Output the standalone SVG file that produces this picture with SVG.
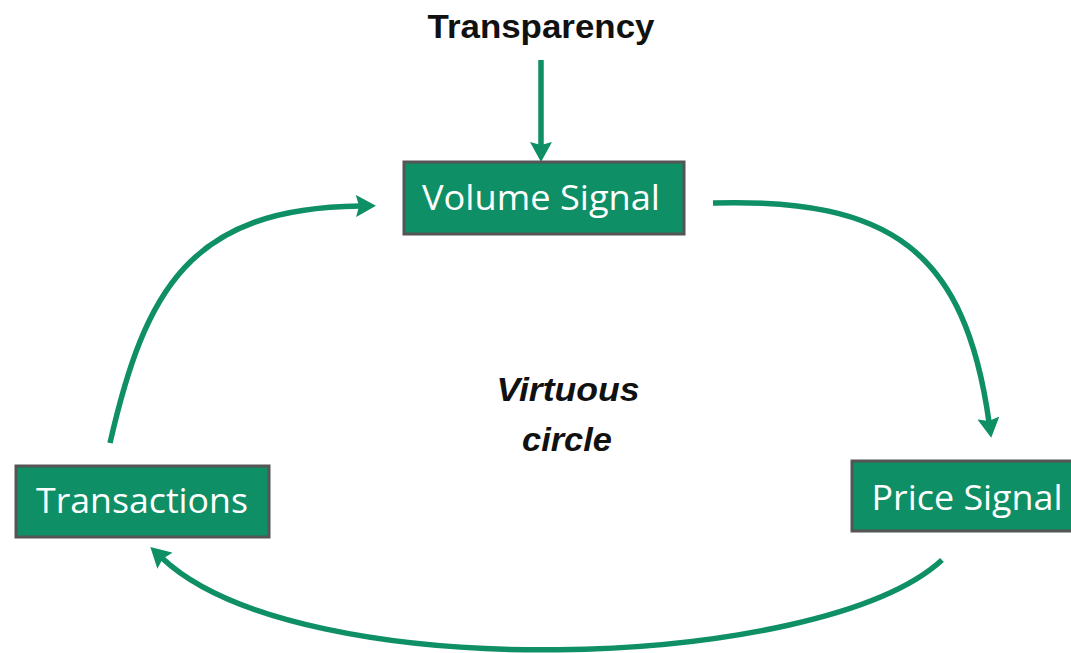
<svg xmlns="http://www.w3.org/2000/svg" width="1071" height="653" viewBox="0 0 1071 653">
<defs>
<style>
.box{fill:#0e8f65;stroke:#555;stroke-width:3}
.lbl{fill:#fff;font-family:"Open Sans","Liberation Sans",sans-serif;font-size:34px}
.conn{fill:none;stroke:#0e8f65;stroke-width:5.5}
.title{fill:#111;font-family:"Liberation Sans",sans-serif;font-weight:bold;font-size:33px}
.mid{fill:#111;font-family:"Liberation Sans",sans-serif;font-weight:bold;font-style:italic;font-size:34px}
</style>
<marker id="ah" viewBox="0 0 20 22" refX="4" refY="11" markerWidth="20" markerHeight="22" markerUnits="userSpaceOnUse" orient="auto">
<path d="M0,0 L20,11 L0,22 L3,11 z" fill="#0e8f65"/>
</marker>
</defs>
<rect width="1071" height="653" fill="#fff"/>
<text class="title" x="541" y="38" text-anchor="middle" textLength="227" lengthAdjust="spacingAndGlyphs">Transparency</text>
<g id="connectors">
<path class="conn" d="M541,60 L541,146" marker-end="url(#ah)"/>
<path class="conn" d="M713,203 C890,198 965,250 989,422" marker-end="url(#ah)"/>
<path class="conn" d="M942,560 C820,672 300,688 162,558" marker-end="url(#ah)"/>
<path class="conn" d="M110,443 C145,290 190,208 360,206" marker-end="url(#ah)"/>
</g>
<g id="volume">
<rect class="box" x="404" y="162" width="280" height="72"/>
<text class="lbl" x="541" y="210" text-anchor="middle" textLength="238" lengthAdjust="spacingAndGlyphs">Volume Signal</text>
</g>
<g id="transactions">
<rect class="box" x="16" y="466" width="253" height="71"/>
<text class="lbl" x="142" y="513" text-anchor="middle" textLength="212" lengthAdjust="spacingAndGlyphs">Transactions</text>
</g>
<g id="price">
<rect class="box" x="852" y="461" width="225" height="70"/>
<text class="lbl" x="967" y="510" text-anchor="middle" textLength="191" lengthAdjust="spacingAndGlyphs">Price Signal</text>
</g>
<text class="mid" x="568" y="401" text-anchor="middle" textLength="143" lengthAdjust="spacingAndGlyphs">Virtuous</text>
<text class="mid" x="567" y="451" text-anchor="middle" textLength="90" lengthAdjust="spacingAndGlyphs">circle</text>
</svg>
